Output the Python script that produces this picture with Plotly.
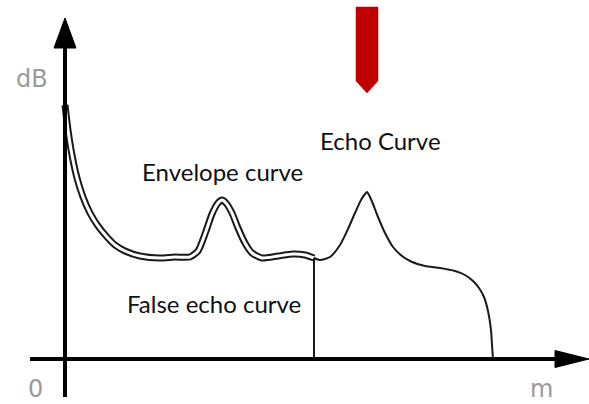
import plotly.graph_objects as go

# Envelope / false echo curve (double line), distance in m, level in dB
env_x = [0, 0.06, 0.14, 0.24, 0.36, 0.5, 0.66, 0.84, 1.0, 1.2, 1.5, 1.9, 2.2, 2.5, 2.66, 2.8, 2.94,
         3.06, 3.14, 3.22, 3.34, 3.46, 3.6, 3.74, 3.94, 4.26, 4.56, 4.8, 4.98]
env_y = [50.8, 45.8, 40.8, 36.2, 32.4, 29.2, 26.6, 24.4, 22.8, 21.6, 20.6, 20.2, 20.4, 20.4, 21.6, 25.0, 29.0,
         31.2, 31.8, 31.2, 29.2, 26.2, 23.2, 21.2, 20.2, 20.6, 21.0, 20.8, 20.2]

# Echo curve (single line)
echo_x = [4.98, 5.1, 5.3, 5.5, 5.66, 5.8, 5.92, 6.0, 6.04, 6.08, 6.16, 6.26, 6.4, 6.56, 6.74, 6.94,
          7.2, 7.5, 7.8, 8.0, 8.16, 8.28, 8.38, 8.46, 8.52, 8.54, 8.56]
echo_y = [20.2, 19.8, 20.4, 22.8, 26.0, 29.2, 31.8, 33.0, 33.4, 32.8, 31.0, 28.4, 25.2, 22.4, 20.6, 19.4,
          18.6, 18.2, 17.6, 16.8, 15.6, 14.2, 12.4, 9.6, 5.8, 2.8, 0]

# False echo cut-off position
cut_x = 4.98
cut_y = 20.2

# Red marker arrow (points at echo)
marker_x = 6.04
marker_top = 70.4
marker_shaft_end = 55.6
marker_tip = 53.2

# Axis extents
x_axis_start, x_axis_end = -0.7, 10.48
y_axis_start, y_axis_end = -7.6, 68.2

labels = ["Envelope curve", "False echo curve", "Echo Curve"]
label_x = [3.14, 2.98, 6.3]
label_y = [37.5, 11.2, 43.7]

XR = [-1.3, 10.48]
YR = [-9, 71.8]

fig = go.Figure()

# double line: thick black + thin white on top
fig.add_trace(go.Scatter(x=env_x, y=env_y, mode="lines",
                         line=dict(color="#1a1a1a", width=7, shape="spline", smoothing=0.6),
                         hoverinfo="skip", showlegend=False))
fig.add_trace(go.Scatter(x=env_x, y=env_y, mode="lines",
                         line=dict(color="white", width=3, shape="spline", smoothing=0.6),
                         hoverinfo="skip", showlegend=False))
# echo curve
fig.add_trace(go.Scatter(x=echo_x, y=echo_y, mode="lines",
                         line=dict(color="#1a1a1a", width=2, shape="spline", smoothing=0.6),
                         hoverinfo="skip", showlegend=False))
# cut-off vertical line
fig.add_trace(go.Scatter(x=[cut_x, cut_x], y=[0, cut_y], mode="lines",
                         line=dict(color="#1a1a1a", width=2),
                         hoverinfo="skip", showlegend=False))

# axes lines
fig.add_trace(go.Scatter(x=[0, 0], y=[y_axis_start, 62.5], mode="lines",
                         line=dict(color="black", width=4), hoverinfo="skip", showlegend=False))
fig.add_trace(go.Scatter(x=[x_axis_start, 9.85], y=[0, 0], mode="lines",
                         line=dict(color="black", width=4), hoverinfo="skip", showlegend=False))
# arrow heads
hw_y = 0.22
fig.add_trace(go.Scatter(x=[-hw_y, 0, hw_y, -hw_y], y=[62.2, y_axis_end, 62.2, 62.2],
                         mode="lines", fill="toself", fillcolor="black",
                         line=dict(color="black", width=1), hoverinfo="skip", showlegend=False))
hh_x = 1.7
fig.add_trace(go.Scatter(x=[9.8, x_axis_end, 9.8, 9.8], y=[-hh_x, 0, hh_x, -hh_x],
                         mode="lines", fill="toself", fillcolor="black",
                         line=dict(color="black", width=1), hoverinfo="skip", showlegend=False))

# red marker arrow
mw = 0.22
fig.add_trace(go.Scatter(
    x=[marker_x - mw, marker_x + mw, marker_x + mw, marker_x, marker_x - mw, marker_x - mw],
    y=[marker_top, marker_top, marker_shaft_end, marker_tip, marker_shaft_end, marker_top],
    mode="lines", fill="toself", fillcolor="#C00000",
    line=dict(color="#C00000", width=0.5), hoverinfo="skip", showlegend=False))

for t, x, y in zip(labels, label_x, label_y):
    fig.add_annotation(x=x, y=y, text=t, showarrow=False, xanchor="center", yanchor="middle",
                       font=dict(family="Lato", size=24, color="#111111"))

gray = dict(family="DejaVu Sans", size=24, color="#9a9a9a")
fig.add_annotation(x=-0.66, y=56, text="dB", showarrow=False, font=gray)
fig.add_annotation(x=-0.6, y=-6.0, text="0", showarrow=False, font=gray)
fig.add_annotation(x=9.52, y=-6.0, text="m", showarrow=False, font=gray)

fig.update_layout(width=589, height=404, margin=dict(l=0, r=0, t=0, b=0),
                  paper_bgcolor="white", plot_bgcolor="white",
                  xaxis=dict(range=XR, visible=False, fixedrange=True),
                  yaxis=dict(range=YR, visible=False, fixedrange=True))

fig.write_html("out.html", config={"displayModeBar": False},
               post_script="document.body.style.margin='0';document.body.style.overflow='hidden';")
